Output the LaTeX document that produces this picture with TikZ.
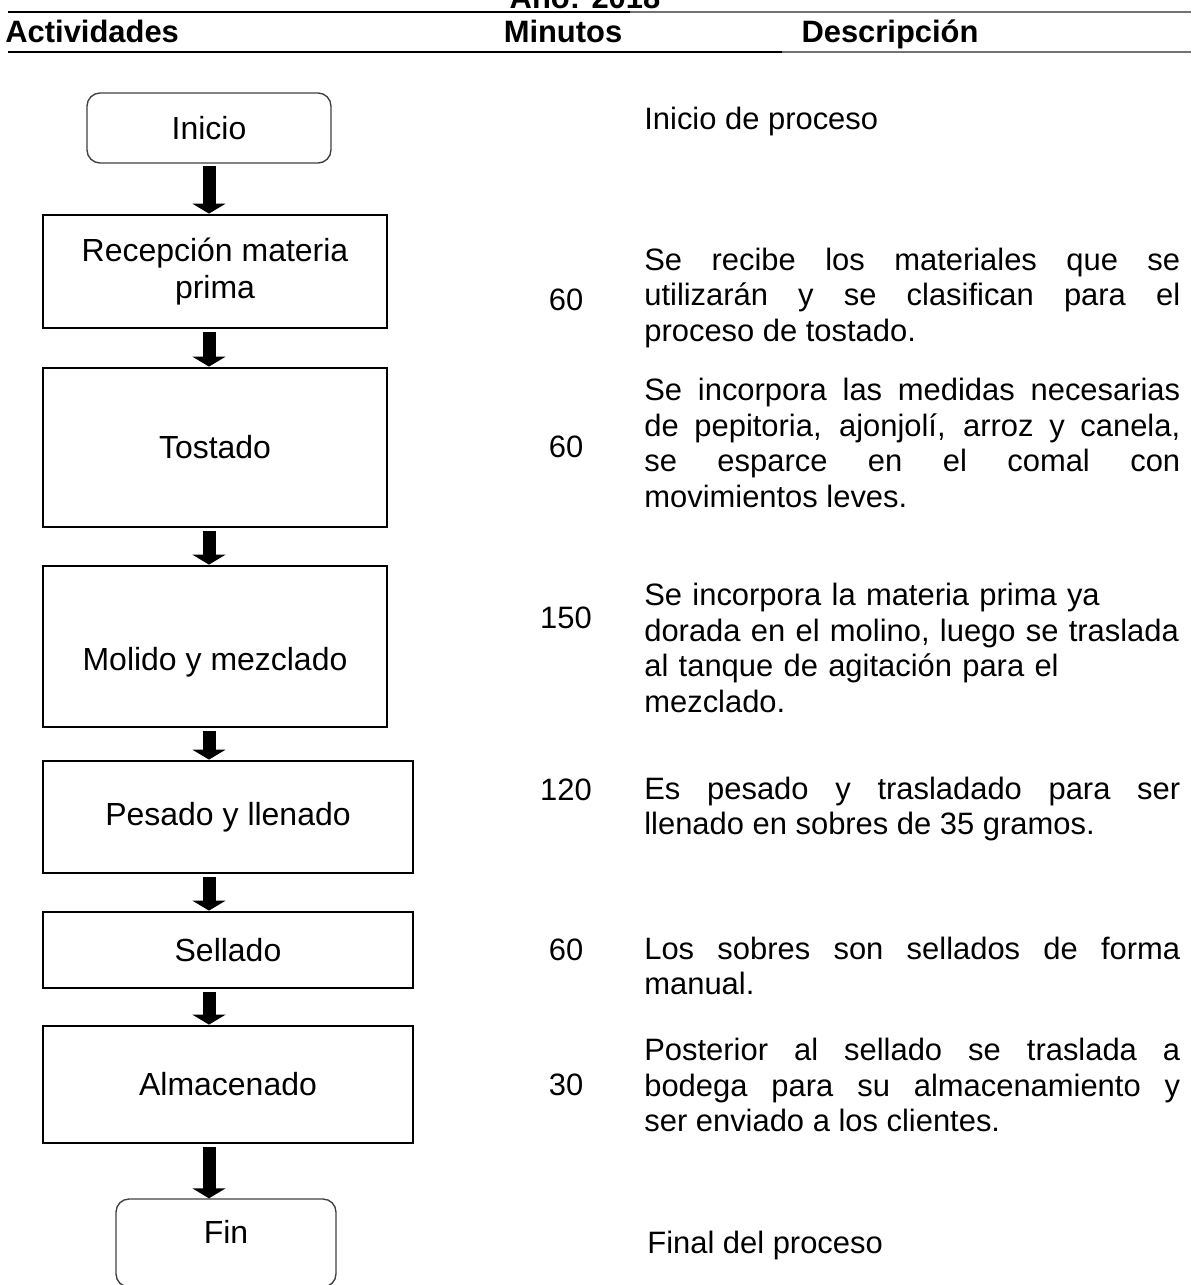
\documentclass[tikz,border=0pt]{standalone}
\usepackage{fontspec}
\setmainfont{Liberation Sans}
\usetikzlibrary{arrows.meta}
\newcommand\tamano{\fontsize{17.6}{20.2}\selectfont}
\newcommand\tamcaja{\fontsize{18.2}{20.6}\selectfont}

\begin{document}
\begin{tikzpicture}[x=0.02cm,y=-0.02cm]
\tikzset{
    paso/.style={draw, line width=1.6pt, minimum width=6.88cm, inner sep=0pt, align=center, font=\tamcaja},
    pasoancho/.style={paso, minimum width=7.4cm},
    extremo/.style={draw=black!75, line width=0.8pt, rounded corners=0.26cm, inner sep=0pt, font=\tamcaja},
    flecha/.style={line width=0.26cm, -{Triangle[width=0.66cm,length=0.2cm]}, shorten <=0.05cm},
    minutos/.style={font=\tamano},
    descr/.style={anchor=west, inner sep=0pt, text width=10.72cm, align=justify, font=\tamano},
    encab/.style={font=\tamano\bfseries, inner sep=0pt, anchor=base},
    regla/.style={line width=1.6pt},
    reglagris/.style={line width=1pt, black!55}}
\useasboundingbox (0,0) rectangle (1191,1285);

% encabezado
\node[encab] (anio) at (585,8) {Año: 2018};
\draw[regla] (8,12) -- (630,12);
\draw[reglagris] (630,12) -- (1191,12);
\node[encab, anchor=base west] (hact) at (5,42) {Actividades};
\node[encab] (hmin) at (563,42) {Minutos};
\node[encab] (hdes) at (890,42) {Descripción};
\draw[regla] (8,52) -- (782,52);
\draw[reglagris] (782,52) -- (1191,52);

% actividades
\node[extremo, minimum width=4.88cm, minimum height=1.4cm] (inicio) at (209,128) {Inicio};
\node[paso, minimum height=2.26cm] (recep) at (215,271.5) {Recepción materia\\prima};
\node[paso, minimum height=3.18cm] (tost) at (215,447.5) {Tostado};
\node[paso, minimum height=3.22cm, text height=1.08cm] (molido) at (215,646.5) {Molido y mezclado};
\node[pasoancho, minimum height=2.24cm] (pesado) at (228,817) {Pesado y llenado};
\node[pasoancho, minimum height=1.52cm] (sellado) at (228,950) {Sellado};
\node[pasoancho, minimum height=2.34cm] (almac) at (228,1084.5) {Almacenado};
\node[extremo, minimum width=4.4cm, minimum height=1.76cm, text depth=0.44cm] (fin) at (226,1243) {Fin};

\foreach \a/\b in {inicio/recep, recep/tost, tost/molido, molido/pesado, pesado/sellado, sellado/almac, almac/fin}{
    \draw[flecha] (inicio |- \a.south) -- (inicio |- \b.north);
}

% minutos
\node[minutos] (m1) at (566,300) {60};
\node[minutos] (m2) at (566,447) {60};
\node[minutos] (m3) at (566,618) {150};
\node[minutos] (m4) at (566,790) {120};
\node[minutos] (m5) at (566,950) {60};
\node[minutos] (m6) at (566,1085) {30};

% descripciones
\node[descr] (d0) at (644,122) {Inicio de proceso};
\node[descr] (d1) at (644,298) {Se recibe los materiales que se\linebreak utilizarán y se clasifican para el\linebreak proceso de tostado.};
\node[descr] (d2) at (644,443) {Se incorpora las medidas necesarias\linebreak de pepitoria, ajonjolí, arroz y canela,\linebreak se esparce en el comal con\linebreak movimientos leves.};
\node[descr, align=left] (d3) at (644,648) {Se incorpora la materia prima ya\\dorada en el molino, luego se traslada\\al tanque de agitación para el\\mezclado.};
\node[descr] (d4) at (644,809) {Es pesado y trasladado para ser\linebreak llenado en sobres de 35 gramos.};
\node[descr] (d5) at (644,966) {Los sobres son sellados de forma\linebreak manual.};
\node[descr] (d6) at (644,1085) {Posterior al sellado se traslada a\linebreak bodega para su almacenamiento y\linebreak ser enviado a los clientes.};
\node[descr] (d7) at (647,1245) {Final del proceso};
\end{tikzpicture}
\end{document}
